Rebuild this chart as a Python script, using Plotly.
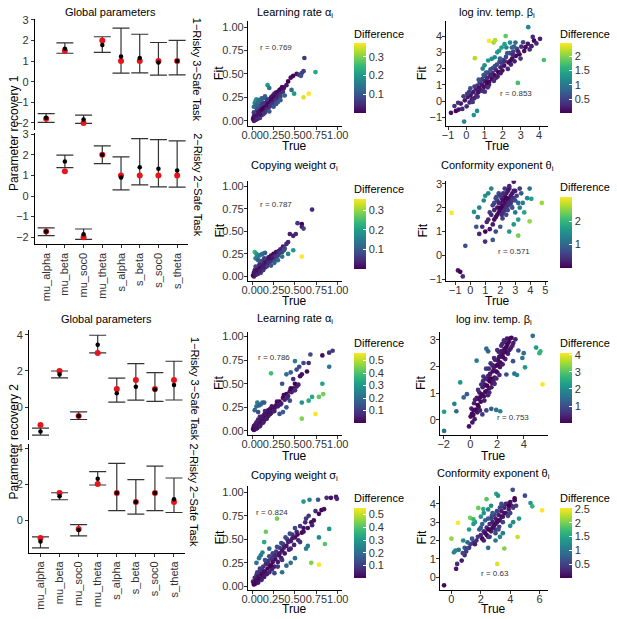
import numpy as np
import plotly.graph_objects as go

W, H = 617, 619
FONT = "Liberation Sans, Arial, sans-serif"

# ---------------- global parameters (left panels) ----------------
params = ["mu_alpha", "mu_beta", "mu_soc0", "mu_theta", "s_alpha", "s_beta", "s_soc0", "s_theta"]

# Parameter recovery 1, 1-Risky 3-Safe task
r1_3safe_true = [-1.8, 1.5, -2.0, 2.0, 1.0, 1.0, 1.0, 1.0]
r1_3safe_fit = [-1.75, 1.6, -1.83, 1.78, 1.22, 1.15, 0.93, 1.0]
r1_3safe_lo = [-1.97, 1.38, -2.02, 1.42, 0.42, 0.43, 0.32, 0.33]
r1_3safe_hi = [-1.55, 1.88, -1.62, 2.18, 2.6, 2.3, 1.9, 2.0]
# Parameter recovery 1, 2-Risky 2-Safe task
r1_2safe_true = [-1.72, 1.2, -2.0, 2.0, 1.0, 1.0, 1.0, 1.0]
r1_2safe_fit = [-1.72, 1.67, -1.85, 2.0, 0.9, 1.4, 1.32, 1.24]
r1_2safe_lo = [-1.92, 1.38, -2.1, 1.57, 0.3, 0.54, 0.44, 0.43]
r1_2safe_hi = [-1.55, 1.98, -1.6, 2.43, 1.9, 2.78, 2.73, 2.67]

# Parameter recovery 2
r2_3safe_true = [-1.0, 2.0, -0.5, 3.0, 1.0, 1.5, 1.0, 1.5]
r2_3safe_fit = [-1.35, 1.8, -0.5, 3.45, 0.77, 1.13, 0.97, 1.22]
r2_3safe_lo = [-1.55, 1.62, -0.69, 3.0, 0.27, 0.38, 0.32, 0.39]
r2_3safe_hi = [-1.17, 2.0, -0.27, 3.98, 1.6, 2.41, 1.91, 2.54]
r2_2safe_true = [-1.0, 1.5, -0.5, 2.0, 1.5, 1.0, 1.5, 1.0]
r2_2safe_fit = [-1.2, 1.33, -0.55, 2.3, 1.5, 1.0, 1.5, 1.16]
r2_2safe_lo = [-1.55, 1.13, -0.88, 1.95, 0.53, 0.33, 0.53, 0.42]
r2_2safe_hi = [-0.94, 1.52, -0.26, 2.7, 3.15, 2.25, 3.0, 2.34]

# ---------------- individual parameters: (true, fit) ----------------
r1_alpha = [
    (0.01, 0.02), (0.02, 0.05), (0.02, 0.00), (0.03, 0.03), (0.03, 0.08), (0.04, 0.01), (0.04, 0.06),
    (0.05, 0.10), (0.05, 0.03), (0.06, 0.07), (0.06, 0.12), (0.07, 0.04), (0.07, 0.09), (0.08, 0.13),
    (0.08, 0.06), (0.09, 0.11), (0.09, 0.03), (0.10, 0.08), (0.10, 0.14), (0.11, 0.06), (0.11, 0.11),
    (0.12, 0.16), (0.12, 0.09), (0.13, 0.13), (0.13, 0.07), (0.14, 0.18), (0.14, 0.10), (0.15, 0.15),
    (0.15, 0.12), (0.16, 0.19), (0.16, 0.11), (0.17, 0.16), (0.18, 0.21), (0.18, 0.13), (0.19, 0.18),
    (0.20, 0.23), (0.20, 0.15), (0.21, 0.20), (0.22, 0.25), (0.22, 0.17), (0.23, 0.22), (0.24, 0.27),
    (0.24, 0.19), (0.25, 0.24), (0.26, 0.29), (0.26, 0.21), (0.27, 0.26), (0.28, 0.30), (0.29, 0.24),
    (0.30, 0.31), (0.31, 0.27), (0.32, 0.33), (0.33, 0.29), (0.34, 0.34), (0.36, 0.31), (0.37, 0.35),
    (0.02, 0.09), (0.05, 0.14), (0.08, 0.16), (0.11, 0.18),
    (0.03, 0.05), (0.06, 0.02), (0.09, 0.07), (0.12, 0.12), (0.15, 0.09), (0.18, 0.17), (0.21, 0.16),
    (0.24, 0.23), (0.27, 0.22), (0.30, 0.27), (0.33, 0.26), (0.35, 0.36), (0.13, 0.19), (0.17, 0.23),
    (0.40, 0.38), (0.42, 0.42), (0.45, 0.46), (0.48, 0.48), (0.52, 0.50), (0.55, 0.49),
    (0.58, 0.51), (0.60, 0.53), (0.57, 0.48), (0.61, 0.67),
    (0.20, 0.10), (0.25, 0.15), (0.28, 0.18), (0.30, 0.20), (0.33, 0.22), (0.38, 0.27),
    (0.02, 0.15), (0.03, 0.19), (0.04, 0.21), (0.05, 0.23), (0.06, 0.17), (0.07, 0.20), (0.08, 0.22),
    (0.10, 0.22), (0.11, 0.24), (0.13, 0.24), (0.15, 0.26), (0.18, 0.38), (0.20, 0.35),
    (0.46, 0.33), (0.49, 0.29), (0.74, 0.52), (0.60, 0.25), (0.66, 0.29),
]
r1_beta = [
    (-0.84, -0.72), (-0.57, -0.60), (-0.65, -0.30), (-0.42, -0.52), (-0.30, -0.15), (-0.22, -0.48),
    (-0.08, 0.05), (0.02, -0.32), (0.08, 0.25), (0.18, -0.08), (0.24, 0.38), (0.31, 0.12), (0.38, 0.55),
    (0.44, 0.18), (0.52, 0.72), (0.56, 0.35), (0.61, 0.95), (0.66, 0.55), (0.72, 0.82), (0.74, 1.15),
    (0.81, 0.66), (0.86, 1.02), (0.88, 1.35), (0.97, 0.88), (1.02, 1.22), (1.04, 1.55), (1.12, 0.98),
    (1.14, 1.42), (1.19, 1.75), (1.26, 1.18), (1.31, 1.52), (1.33, 1.95), (1.41, 1.36), (1.44, 1.72),
    (1.48, 2.05), (1.56, 1.58), (1.62, 1.92), (1.68, 2.25), (1.77, 1.78), (1.82, 2.42), (1.88, 2.08),
    (2.02, 2.52), (2.08, 2.18), (2.18, 2.72), (2.32, 2.38), (2.38, 2.95), (2.52, 2.62), (2.58, 3.05),
    (2.72, 2.78), (2.78, 3.22), (2.92, 2.88), (3.02, 3.35), (3.18, 3.08), (3.38, 3.52), (3.58, 3.38),
    (3.72, 3.72), (4.05, 3.83), (0.22, 0.78), (1.02, 0.58), (2.28, 1.98), (3.12, 3.62), (1.65, 1.45),
    (1.95, 2.35), (2.45, 2.25), (0.95, 1.60), (1.25, 1.00), (0.45, 0.90), (-0.15, 0.30),
    (0.15, 0.55), (0.35, -0.05), (0.62, 0.28), (0.78, 1.25), (0.92, 0.62), (1.08, 1.75), (1.18, 0.85),
    (1.36, 1.62), (1.52, 1.25), (1.58, 2.15), (1.72, 1.52), (1.85, 2.62), (1.98, 1.88), (2.12, 2.45),
    (2.25, 2.95), (2.42, 2.48), (2.55, 2.85), (2.65, 2.45), (2.85, 3.05), (2.98, 2.62), (3.25, 3.32),
    (3.48, 3.18), (3.65, 3.95), (3.85, 3.55), (0.05, 0.45), (-0.45, -0.10), (0.68, 1.32), (1.15, 1.15),
    (1.88, 1.72), (2.62, 3.35),
    (-0.12, -1.26), (0.41, -0.86), (0.59, -0.60), (3.40, 4.55),
    (0.90, 2.00), (1.00, 2.20), (1.20, 2.50), (1.40, 2.60), (1.56, 2.70), (1.70, 3.00), (1.80, 3.10),
    (1.94, 3.30), (2.20, 3.30), (2.10, 3.50), (2.40, 3.60), (2.50, 3.30), (2.70, 3.60),
    (4.26, 2.53), (2.83, 1.12), (2.16, 4.00), (1.50, 3.60), (1.58, 3.75), (1.25, 3.70), (0.47, 2.64),
]
r1_soc0 = [
    (0.01, 0.01), (0.02, 0.04), (0.02, 0.00), (0.03, 0.02), (0.03, 0.07), (0.04, 0.03), (0.05, 0.08),
    (0.05, 0.02), (0.06, 0.05), (0.06, 0.10), (0.07, 0.03), (0.07, 0.08), (0.08, 0.12), (0.08, 0.05),
    (0.09, 0.09), (0.10, 0.04), (0.10, 0.13), (0.11, 0.08), (0.12, 0.11), (0.12, 0.15), (0.13, 0.07),
    (0.14, 0.12), (0.14, 0.17), (0.15, 0.10), (0.16, 0.14), (0.17, 0.19), (0.17, 0.11), (0.18, 0.16),
    (0.19, 0.21), (0.20, 0.14), (0.21, 0.19), (0.22, 0.23), (0.23, 0.17), (0.24, 0.21), (0.25, 0.25),
    (0.26, 0.19), (0.27, 0.24), (0.28, 0.27), (0.30, 0.23), (0.31, 0.28), (0.33, 0.30), (0.35, 0.27),
    (0.36, 0.33), (0.38, 0.31), (0.40, 0.36), (0.04, 0.11), (0.09, 0.14),
    (0.03, 0.05), (0.06, 0.07), (0.09, 0.06), (0.11, 0.14), (0.13, 0.10), (0.16, 0.18), (0.19, 0.15),
    (0.22, 0.20), (0.25, 0.22), (0.28, 0.22), (0.32, 0.26), (0.37, 0.29), (0.10, 0.17), (0.14, 0.20),
    (0.42, 0.38), (0.44, 0.47), (0.48, 0.45), (0.51, 0.47), (0.53, 0.59), (0.58, 0.58), (0.58, 0.55),
    (0.60, 0.53), (0.70, 0.74),
    (0.22, 0.12), (0.26, 0.15), (0.30, 0.18), (0.35, 0.22),
    (0.03, 0.27), (0.05, 0.25), (0.04, 0.20), (0.06, 0.22), (0.08, 0.23), (0.10, 0.24), (0.12, 0.25),
    (0.07, 0.18), (0.15, 0.26),
    (0.48, 0.29), (0.42, 0.25), (0.58, 0.22),
]
r1_theta = [
    (1.20, 1.50), (1.40, 1.70), (1.50, 1.30), (1.60, 1.90), (1.70, 1.60), (1.80, 2.00), (1.80, 2.30),
    (1.90, 1.80), (2.00, 2.20), (2.00, 1.90), (2.10, 2.40), (2.10, 2.00), (2.20, 2.10), (2.20, 1.80),
    (2.30, 2.50), (2.30, 2.20), (2.40, 2.00), (2.40, 2.60), (2.50, 2.30), (2.50, 2.10), (2.60, 2.80),
    (2.60, 2.40), (2.70, 2.20), (2.80, 2.60), (2.90, 3.09), (2.90, 2.40), (3.00, 2.70), (3.10, 2.50),
    (1.30, 1.10), (1.00, 1.00), (0.99, 0.58), (0.80, 1.20), (0.60, 0.90), (2.60, 2.90), (1.90, 2.60),
    (2.30, 2.80), (1.50, 0.65), (1.60, 2.20), (2.40, 1.70), (1.75, 2.45), (2.15, 1.55), (2.75, 2.05),
    (1.50, 2.10), (1.70, 2.40), (1.90, 2.20), (2.00, 2.50), (2.10, 1.70), (2.20, 2.30), (2.30, 1.90),
    (2.40, 2.40), (2.50, 2.70), (2.60, 2.20), (2.70, 2.50), (2.80, 2.30), (2.90, 2.70), (3.00, 2.30),
    (1.80, 1.70), (2.00, 2.00), (2.20, 2.60), (2.50, 1.90), (1.60, 1.50), (1.30, 1.80), (1.10, 1.40),
    (2.80, 2.00), (3.20, 2.20), (3.30, 2.80),
    (0.25, 1.82), (0.50, 1.60), (0.60, 2.00), (0.90, 2.30), (1.00, 2.50), (1.20, 2.60), (1.40, 2.80),
    (0.40, 1.20), (3.30, 2.00), (3.50, 2.20), (3.60, 1.80), (3.80, 2.40), (3.40, 2.60), (2.60, 1.00),
    (2.90, 1.30), (3.20, 1.50), (3.00, 1.80), (2.00, 1.20), (1.70, 1.00), (3.96, 2.80), (4.07, 2.37),
    (4.77, 2.20), (3.96, 1.43), (3.20, 0.83), (-1.24, 1.78),
    (-0.33, 0.40), (-0.82, -0.63), (-0.67, -0.69), (-0.50, -0.88),
]
r2_alpha = [
    (0.01, 0.02), (0.02, 0.05), (0.02, 0.01), (0.03, 0.03), (0.04, 0.07), (0.04, 0.02), (0.05, 0.05),
    (0.06, 0.09), (0.06, 0.03), (0.07, 0.07), (0.08, 0.11), (0.08, 0.05), (0.09, 0.09), (0.10, 0.13),
    (0.10, 0.07), (0.11, 0.11), (0.12, 0.15), (0.12, 0.09), (0.13, 0.13), (0.14, 0.17), (0.14, 0.11),
    (0.15, 0.15), (0.16, 0.19), (0.16, 0.13), (0.17, 0.17), (0.18, 0.21), (0.19, 0.16), (0.20, 0.20),
    (0.21, 0.23), (0.22, 0.19), (0.23, 0.22), (0.24, 0.25), (0.25, 0.21), (0.26, 0.24), (0.28, 0.27),
    (0.30, 0.26), (0.32, 0.31), (0.34, 0.29), (0.36, 0.35), (0.38, 0.33), (0.40, 0.39), (0.42, 0.37),
    (0.44, 0.42), (0.46, 0.41), (0.48, 0.45), (0.50, 0.43), (0.52, 0.47), (0.09, 0.15), (0.15, 0.21),
    (0.03, 0.06), (0.05, 0.09), (0.07, 0.12), (0.09, 0.05), (0.11, 0.15), (0.13, 0.09), (0.15, 0.18),
    (0.17, 0.13), (0.19, 0.22), (0.21, 0.18), (0.23, 0.26), (0.26, 0.21), (0.29, 0.31), (0.33, 0.28),
    (0.37, 0.38), (0.41, 0.35), (0.45, 0.45), (0.50, 0.50), (0.54, 0.49), (0.58, 0.60),
    (0.40, 0.60), (0.48, 0.55), (0.56, 0.58), (0.66, 0.72), (0.68, 0.81), (0.60, 0.72), (0.64, 0.63),
    (0.82, 0.80), (0.90, 0.83), (0.94, 0.85), (0.45, 0.62), (0.52, 0.65), (0.35, 0.50), (0.55, 0.68),
    (0.03, 0.22), (0.05, 0.26), (0.06, 0.30), (0.08, 0.27), (0.10, 0.28), (0.12, 0.30), (0.14, 0.30),
    (0.07, 0.20),
    (0.32, 0.18), (0.36, 0.20), (0.44, 0.32), (0.58, 0.30), (0.70, 0.36), (0.66, 0.32), (0.82, 0.50),
    (0.90, 0.68), (0.50, 0.74), (0.40, 0.25),
    (0.22, 0.61), (0.58, 0.13), (0.83, 0.39), (0.78, 0.36), (0.74, 0.18),
]
r2_beta = [
    (-0.10, -0.25), (0.02, 0.12), (0.08, 0.42), (0.22, 0.18), (0.28, 0.62), (0.41, 0.38), (0.48, 0.82),
    (0.62, 0.48), (0.68, 1.02), (0.78, 0.68), (0.92, 1.22), (1.02, 0.88), (1.08, 1.32), (1.22, 1.08),
    (1.28, 1.52), (1.42, 1.18), (1.48, 1.72), (1.62, 1.38), (1.68, 1.82), (1.82, 1.58), (1.88, 2.02),
    (2.02, 1.78), (2.08, 2.22), (2.22, 1.98), (2.28, 2.42), (2.42, 2.08), (2.48, 2.52), (2.62, 2.28),
    (2.68, 2.72), (2.82, 2.48), (2.88, 2.92), (3.02, 2.68), (3.08, 3.08), (3.22, 2.88), (3.38, 3.02),
    (0.98, 1.62), (1.18, 1.92), (1.52, 2.12), (1.78, 2.32), (2.02, 2.62), (2.32, 2.78), (2.58, 2.92),
    (0.52, 0.28), (0.82, 1.32), (1.32, 0.92), (1.58, 1.22), (2.18, 1.68), (0.32, 0.02), (0.58, 1.12),
    (1.12, 1.05), (1.45, 1.45), (1.75, 1.95), (2.15, 2.35), (2.55, 2.65), (2.75, 3.05), (0.75, 0.85),
    (1.35, 1.65), (1.95, 1.55), (2.40, 2.85), (0.15, -0.10),
    (0.12, 0.22), (0.35, 0.75), (0.55, 0.55), (0.72, 0.35), (0.88, 0.95), (0.95, 1.45), (1.05, 0.72),
    (1.15, 1.55), (1.25, 1.28), (1.38, 1.92), (1.55, 1.55), (1.65, 2.05), (1.72, 1.45), (1.85, 2.25),
    (1.92, 1.82), (2.05, 2.05), (2.12, 2.55), (2.25, 2.15), (2.35, 2.58), (2.45, 2.35), (2.52, 2.98),
    (2.65, 2.55), (2.78, 2.82), (2.92, 2.62), (2.98, 3.05), (3.15, 2.78), (0.25, 0.35), (0.62, 0.78),
    (1.42, 1.02), (1.82, 1.35),
    (-1.97, -0.42), (-1.97, 0.30), (0.47, 2.22), (-0.76, 1.40), (-1.05, 0.32), (-0.50, 0.84),
    (-0.26, 0.96), (-1.20, 0.60), (1.20, 2.67), (1.33, 2.57), (1.57, 0.41), (1.94, 0.37), (2.24, 0.32),
    (2.70, 1.70), (3.30, 1.73), (3.50, 1.68), (4.00, 2.50), (3.90, 2.32), (4.10, 1.97), (3.60, 2.60),
    (3.20, 2.20), (4.68, 3.15), (4.93, 2.71), (5.25, 2.57), (5.18, 2.50), (0.90, 0.20), (1.20, 0.35),
    (5.42, 1.33),
]
r2_soc0 = [
    (0.01, 0.05), (0.02, 0.02), (0.03, 0.09), (0.04, 0.03), (0.05, 0.12), (0.05, 0.06), (0.07, 0.10),
    (0.07, 0.04), (0.08, 0.15), (0.09, 0.08), (0.10, 0.13), (0.11, 0.18), (0.11, 0.07), (0.12, 0.12),
    (0.13, 0.21), (0.14, 0.10), (0.15, 0.16), (0.16, 0.24), (0.17, 0.13), (0.18, 0.19), (0.19, 0.27),
    (0.20, 0.15), (0.21, 0.22), (0.22, 0.30), (0.23, 0.18), (0.24, 0.26), (0.25, 0.33), (0.26, 0.21),
    (0.27, 0.29), (0.28, 0.37), (0.30, 0.26), (0.31, 0.33), (0.32, 0.41), (0.34, 0.30), (0.35, 0.38),
    (0.36, 0.45), (0.38, 0.35), (0.40, 0.43), (0.41, 0.50), (0.43, 0.39), (0.45, 0.48), (0.47, 0.55),
    (0.49, 0.44), (0.50, 0.52), (0.52, 0.58), (0.54, 0.49), (0.56, 0.47), (0.58, 0.57), (0.62, 0.68),
    (0.65, 0.62), (0.69, 0.68), (0.66, 0.75), (0.78, 0.77), (0.81, 0.81), (0.84, 0.82), (0.87, 0.94),
    (0.92, 0.94), (0.98, 0.95), (0.99, 0.93), (0.72, 0.70), (0.60, 0.62), (0.26, 0.14), (0.30, 0.21),
    (0.35, 0.28), (0.45, 0.40),
    (0.06, 0.15), (0.09, 0.19), (0.13, 0.15), (0.15, 0.28), (0.18, 0.24), (0.20, 0.32), (0.22, 0.22),
    (0.24, 0.35), (0.27, 0.33), (0.29, 0.42), (0.32, 0.35), (0.34, 0.46), (0.37, 0.41), (0.39, 0.52),
    (0.42, 0.47), (0.44, 0.56), (0.47, 0.51), (0.50, 0.62), (0.53, 0.55), (0.56, 0.64), (0.60, 0.58),
    (0.63, 0.72), (0.70, 0.65), (0.74, 0.80),
    (0.05, 0.25), (0.08, 0.30), (0.10, 0.33), (0.12, 0.36), (0.14, 0.47), (0.16, 0.58), (0.20, 0.40),
    (0.35, 0.15), (0.40, 0.22), (0.45, 0.25), (0.60, 0.90), (0.67, 0.92), (0.77, 0.92), (0.90, 0.61),
    (0.78, 0.52), (0.65, 0.43), (0.63, 0.40), (0.50, 0.30),
    (0.29, 0.72), (0.85, 0.45), (0.69, 0.25), (0.78, 0.23),
]
r2_theta = [
    (-0.50, -0.45), (0.32, 0.45), (0.39, 0.72), (0.70, 0.90), (0.90, 1.20), (1.00, 1.40), (1.20, 1.60),
    (1.30, 1.80), (1.50, 1.90), (1.70, 2.00), (1.80, 2.20), (2.00, 2.30), (2.10, 2.10), (2.20, 2.50),
    (2.30, 2.40), (2.40, 2.70), (2.50, 2.60), (2.60, 2.90), (2.70, 2.50), (2.80, 3.00), (2.90, 2.80),
    (3.00, 3.20), (3.10, 3.00), (3.20, 3.40), (3.30, 3.10), (3.40, 3.60), (3.50, 3.30), (3.60, 3.80),
    (3.70, 3.50), (3.80, 4.00), (3.90, 3.70), (4.00, 4.10), (4.10, 3.90), (4.17, 4.77), (4.30, 4.20),
    (2.50, 2.20), (3.00, 2.60), (3.50, 3.00), (4.40, 3.90), (2.75, 3.35), (3.25, 2.75), (3.85, 3.35),
    (1.90, 2.60), (2.10, 2.90), (2.30, 3.10), (2.40, 2.30), (2.60, 2.60), (2.70, 3.20), (2.80, 2.70),
    (2.90, 3.40), (3.00, 2.90), (3.10, 3.60), (3.20, 3.10), (3.30, 3.80), (3.40, 3.30), (3.50, 3.90),
    (3.60, 3.50), (3.70, 4.00), (3.90, 3.90), (4.00, 3.50), (4.20, 3.80), (4.30, 4.30), (2.20, 2.00),
    (2.60, 2.20), (3.00, 2.40), (3.20, 2.60), (1.60, 1.80), (1.40, 2.10), (1.10, 1.90), (0.90, 1.60),
    (2.00, 2.70), (2.50, 3.20), (2.80, 3.50), (3.40, 4.00),
    (0.17, 1.35), (0.27, 1.44), (0.50, 1.49), (0.77, 1.31), (1.05, 1.56), (0.80, 2.00), (1.20, 2.60),
    (1.50, 2.90), (1.60, 3.00), (2.00, 3.30), (2.20, 3.50), (2.50, 3.70), (2.70, 3.90), (3.05, 4.55),
    (3.17, 4.45), (5.00, 4.45), (5.38, 4.05), (5.50, 3.87), (3.00, 2.00), (3.30, 2.20), (3.50, 2.40),
    (2.50, 1.60), (4.20, 3.00), (4.60, 3.20), (4.00, 2.80),
    (1.83, 3.78), (2.17, 3.72), (2.39, 4.26), (1.27, 3.24), (1.50, 3.15), (0.00, 2.10), (4.50, 2.19),
    (3.60, 1.56), (6.17, 3.65), (0.45, 2.97), (3.12, 0.72),
]

r_values = ["r = 0.769", "r = 0.853", "r = 0.787", "r = 0.571",
            "r = 0.786", "r = 0.753", "r = 0.824", "r = 0.63"]


def xdom(a, b):
    return [a / W, b / W]


def ydom(top, bottom):
    return [1 - bottom / H, 1 - top / H]


def label(text, x, y, size=11, angle=0, **kw):
    return dict(text=text, x=x / W, y=1 - y / H, xref="paper", yref="paper",
                showarrow=False, textangle=angle, font=dict(size=size, color="black", family=FONT),
                xanchor="center", yanchor="middle", **kw)


def base_axis(**kw):
    ax = dict(showline=True, linecolor="black", linewidth=1, ticks="outside", ticklen=3,
              tickwidth=1, tickcolor="#333", showgrid=False, zeroline=False,
              tickfont=dict(size=11, color="#333", family=FONT))
    ax.update(kw)
    return ax


fig = go.Figure()
layout = {}
annotations = []

# ---------------- left: global parameters ----------------
left_sets = [
    # (true, fit, lo, hi, x px, y px (top,bottom), y range, y ticks, bottom facet?)
    (r1_3safe_true, r1_3safe_fit, r1_3safe_lo, r1_3safe_hi, (29.5, 186), (14, 127), [-2.35, 3.05], [-2, -1, 0, 1, 2, 3], False),
    (r1_2safe_true, r1_2safe_fit, r1_2safe_lo, r1_2safe_hi, (29.5, 186), (130, 243), [-2.35, 3.05], [-2, -1, 0, 1, 2, 3], True),
    (r2_3safe_true, r2_3safe_fit, r2_3safe_lo, r2_3safe_hi, (23.5, 183), (330, 441.5), [-1.83, 4.26], [0, 2, 4], False),
    (r2_2safe_true, r2_2safe_fit, r2_2safe_lo, r2_2safe_hi, (23.5, 183), (445, 556), [-1.83, 4.26], [0, 2, 4], True),
]
for i, (tv, fv, lo, hi, xp, yp, yr, yt, bottom) in enumerate(left_sets, start=1):
    xa, ya = f"x{i}", f"y{i}"
    fv_a = np.array(fv)
    fig.add_trace(go.Scatter(
        x=params, y=fv, xaxis=xa, yaxis=ya, mode="markers",
        marker=dict(size=1, color="rgba(0,0,0,0)"),
        error_y=dict(type="data", symmetric=False, array=np.array(hi) - fv_a,
                     arrayminus=fv_a - np.array(lo), width=8.5, thickness=1.2, color="#333"),
        showlegend=False, hoverinfo="skip"))
    fig.add_trace(go.Scatter(x=params, y=tv, xaxis=xa, yaxis=ya, mode="markers",
                             marker=dict(size=6, color="#e8141c"), showlegend=False))
    fig.add_trace(go.Scatter(x=params, y=fv, xaxis=xa, yaxis=ya, mode="markers",
                             marker=dict(size=4.5, color="black"), showlegend=False))
    xax = base_axis(domain=xdom(*xp), anchor=ya, type="category", categoryorder="array",
                    categoryarray=params, range=[-0.6, 7.6], tickangle=-90)
    if not bottom:
        xax.update(showline=False, ticks="", showticklabels=False)
    layout[f"xaxis{i}"] = xax
    layout[f"yaxis{i}"] = base_axis(domain=ydom(*yp), anchor=xa, range=yr, tickvals=yt)

annotations += [
    label("Global parameters", 107, 7),
    label("Global parameters", 103, 319),
    label("Parameter recovery 1", 8, 130, size=12, angle=-90),
    label("Parameter recovery 2", 8, 443, size=12, angle=-90),
    label("1\u2212Risky 3\u2212Safe Task", 195, 66, angle=90),
    label("2\u2212Risky 2\u2212Safe Task", 195, 183, angle=90),
    label("1\u2212Risky 3\u2212Safe Task", 192, 390, angle=90),
    label("2\u2212Risky 2\u2212Safe Task", 192, 498, angle=90),
]

# ---------------- scatter panels ----------------
unit_ticks = [0, 0.25, 0.5, 0.75, 1]
unit_text = ["0.00", "0.25", "0.50", "0.75", "1.00"]
MID = (246.7, 342.7)
RIGHT1 = (449, 553)
RIGHT2 = (442.7, 552.3)

panels = [
    dict(data=r1_alpha, title="Learning rate \u03b1<sub>i</sub>", xp=MID, yp=(16.7, 122.3),
         xr=[-0.05, 1.05], yr=[-0.05, 1.06], xt=unit_ticks, yt=unit_ticks, unit=True,
         cb=(47, 109), cbx=355, cticks=[0.1, 0.2, 0.3], rpos=(0.28, 0.78), ty=8, truey=143.5, fitx=218),
    dict(data=r1_beta, title="log inv. temp. \u03b2<sub>i</sub>", xp=RIGHT1, yp=(16.7, 122.3),
         xr=[-1.1, 4.5], yr=[-1.5, 4.9], xt=[-1, 0, 1, 2, 3, 4], yt=[-1, 0, 1, 2, 3, 4], unit=False,
         cb=(47, 109), cbx=565, cticks=[0.5, 1.0, 1.5, 2.0], rpos=(2.75, 0.45), ty=8, truey=143.5, fitx=425),
    dict(data=r1_soc0, title="Copying weight \u03c3<sub>i</sub>", xp=MID, yp=(178.3, 280),
         xr=[-0.05, 1.05], yr=[-0.05, 1.06], xt=unit_ticks, yt=unit_ticks, unit=True,
         cb=(204.3, 266.7), cbx=355, cticks=[0.1, 0.2, 0.3], rpos=(0.28, 0.8), ty=163, truey=300.5, fitx=218),
    dict(data=r1_theta, title="Conformity exponent \u03b8<sub>i</sub>", xp=RIGHT1, yp=(178.3, 280),
         xr=[-1.6, 5.2], yr=[-1.07, 3.13], xt=[-1, 0, 1, 2, 3, 4, 5], yt=[-1, 0, 1, 2, 3], unit=False,
         cb=(203.3, 266), cbx=565, cticks=[1, 2], rpos=(2.9, 0.17), ty=163, truey=300.5, fitx=425),
    dict(data=r2_alpha, title="Learning rate \u03b1<sub>i</sub>", xp=MID, yp=(331.7, 436),
         xr=[-0.05, 1.05], yr=[-0.04, 1.05], xt=unit_ticks, yt=unit_ticks, unit=True,
         cb=(361, 423.3), cbx=355, cticks=[0.1, 0.2, 0.3, 0.4, 0.5], rpos=(0.26, 0.78), ty=319, truey=457.5, fitx=218),
    dict(data=r2_beta, title="log inv. temp. \u03b2<sub>i</sub>", xp=RIGHT2, yp=(331.7, 436),
         xr=[-2.27, 5.79], yr=[-0.56, 3.3], xt=[-2, 0, 2, 4], yt=[0, 1, 2, 3], unit=False,
         cb=(361, 423.3), cbx=565, cticks=[1, 2, 3, 4], rpos=(3.2, 0.1), ty=320, truey=457.5, fitx=424),
    dict(data=r2_soc0, title="Copying weight \u03c3<sub>i</sub>", xp=MID, yp=(487.7, 593.3),
         xr=[-0.05, 1.05], yr=[-0.035, 1.07], xt=unit_ticks, yt=unit_ticks, unit=True,
         cb=(518.3, 580.7), cbx=355, cticks=[0.1, 0.2, 0.3, 0.4, 0.5], rpos=(0.23, 0.78), ty=478, truey=612.5, fitx=218),
    dict(data=r2_theta, title="Conformity exponent \u03b8<sub>i</sub>", xp=RIGHT2, yp=(487.7, 593.3),
         xr=[-0.77, 6.54], yr=[-0.69, 5.0], xt=[0, 2, 4, 6], yt=[0, 1, 2, 3, 4], unit=False,
         cb=(518.3, 580.7), cbx=565, cticks=[0.5, 1.0, 1.5, 2.0, 2.5], rpos=(2.95, 0.18), ty=476, truey=612.5, fitx=424),
]

for k, p in enumerate(panels):
    n = k + 5
    xa, ya = f"x{n}", f"y{n}"
    true_v = np.array([d[0] for d in p["data"]])
    fit_v = np.array([d[1] for d in p["data"]])
    diff = np.abs(true_v - fit_v)
    top, bot = p["cb"]
    fig.add_trace(go.Scatter(
        x=true_v, y=fit_v, xaxis=xa, yaxis=ya, mode="markers", showlegend=False,
        marker=dict(size=4.7, color=diff, colorscale="Viridis", showscale=True,
                    colorbar=dict(
                        title=dict(text="Difference", side="top", font=dict(size=11, family=FONT)),
                        x=p["cbx"] / W, xanchor="left", xpad=0,
                        y=1 - (bot + 1) / H, yanchor="bottom", ypad=0,
                        lenmode="pixels", len=(bot - top) + 25,
                        thicknessmode="pixels", thickness=12, outlinewidth=0,
                        tickvals=p["cticks"], ticks="inside", ticklen=3, tickcolor="white",
                        tickfont=dict(size=11, color="#333", family=FONT)))))
    xkw = dict(tickvals=p["xt"], tickangle=0, ticklabelstandoff=-4)
    ykw = dict(tickvals=p["yt"], ticklabelstandoff=-2)
    if p["unit"]:
        xkw["ticktext"] = unit_text
        ykw["ticktext"] = unit_text
    layout[f"xaxis{n}"] = base_axis(domain=xdom(*p["xp"]), anchor=ya, range=p["xr"], **xkw)
    layout[f"yaxis{n}"] = base_axis(domain=ydom(*p["yp"]), anchor=xa, range=p["yr"], **ykw)
    cx = (p["xp"][0] + p["xp"][1]) / 2
    cy = (p["yp"][0] + p["yp"][1]) / 2
    annotations.append(label(p["title"], cx, p["ty"]))
    annotations.append(label("True", cx, p["truey"], size=12))
    annotations.append(label("Fit", p["fitx"], cy, size=12.5, angle=-90))
    annotations.append(dict(text=r_values[k], x=p["rpos"][0], y=p["rpos"][1], xref=xa, yref=ya,
                            showarrow=False, font=dict(size=8, color="#333", family=FONT)))

layout["annotations"] = annotations
fig.update_layout(**layout)
fig.update_layout(width=W, height=H, margin=dict(l=0, r=0, t=0, b=0),
                  paper_bgcolor="white", plot_bgcolor="white",
                  font=dict(family=FONT, color="black"), showlegend=False)

# the page has a default 8px body margin; drop it so the figure fills the window
fig.write_html("out.html", config={"displayModeBar": False},
               post_script="document.body.style.margin='0px';")
